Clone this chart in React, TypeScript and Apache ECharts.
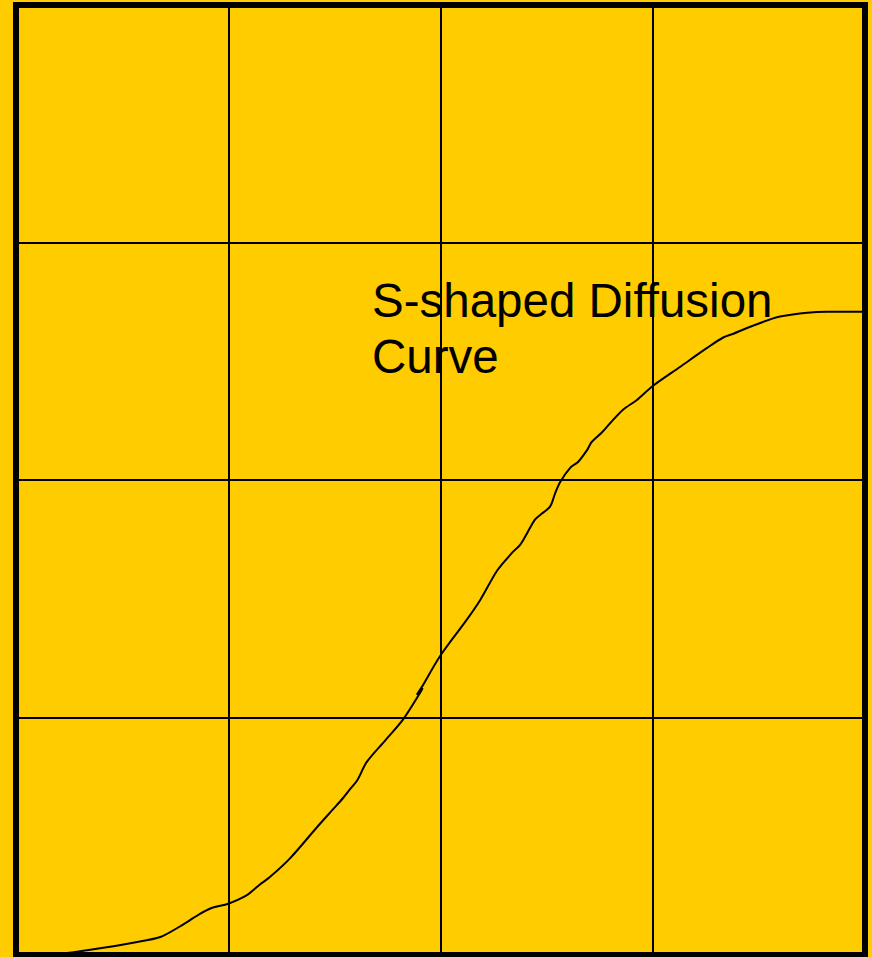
import React, { useEffect, useRef } from "react";
import * as echarts from "echarts";

// Curve points (x: 0-100 across the grid, y: 0-100 up the grid)
const curveX = [
  3.4, 6.0, 9.9, 13.8, 17.0, 19.3, 20.9, 22.0, 23.2, 25.0, 27.2, 28.7, 29.9,
  32.3, 35.5, 37.3, 38.5, 39.3, 40.2, 41.3, 43.5, 45.6, 47.6, 47.9, 47.2, 47.8,
  49.9, 53.1, 54.7, 56.7, 58.5, 59.4, 60.2, 61.1, 61.7, 62.9, 63.5, 64.1, 65.3,
  66.2, 67.3, 67.8, 69.0, 70.0, 71.5, 73.1, 75.0, 78.2, 81.4, 83.3, 84.5, 86.1,
  88.5, 90.0, 93.2, 95.5, 99.7,
];
const curveY = [
  0.0, 0.2, 0.7, 1.3, 1.9, 3.0, 3.9, 4.5, 5.0, 5.4, 6.3, 7.4, 8.2,
  10.2, 13.5, 15.3, 16.5, 17.4, 18.4, 20.3, 22.6, 24.8, 27.6, 28.1, 27.4, 28.2,
  31.4, 35.3, 37.4, 40.5, 42.4, 43.2, 44.4, 45.8, 46.3, 47.2, 48.6, 49.8, 51.3,
  51.9, 53.2, 54.0, 55.0, 56.0, 57.4, 58.4, 59.9, 61.9, 63.9, 65.0, 65.4, 66.0,
  66.8, 67.2, 67.6, 67.7, 67.7,
];
const axisMin = 0;
const axisMax = 100;
const axisStep = 25;
const labelLines = ["S-shaped Diffusion", "Curve"];

export default function App() {
  const ref = useRef<HTMLDivElement>(null);
  useEffect(() => {
    if (!ref.current) return;
    const chart = echarts.init(ref.current, null, { renderer: "svg" });
    const data = curveX.map((x, i) => [x, curveY[i]]);
    const splitLine = { show: true, lineStyle: { color: "#000", width: 2 } };
    chart.setOption({
      animation: false,
      backgroundColor: "#FFCC00",
      grid: {
        left: 16,
        right: 7,
        top: 5,
        bottom: 2,
        show: true,
        backgroundColor: "#FFCC00",
        borderColor: "#000",
        borderWidth: 6,
      },
      xAxis: {
        type: "value",
        min: axisMin,
        max: axisMax,
        interval: axisStep,
        axisLine: { show: false },
        axisTick: { show: false },
        axisLabel: { show: false },
        splitLine,
      },
      yAxis: {
        type: "value",
        min: axisMin,
        max: axisMax,
        interval: axisStep,
        axisLine: { show: false },
        axisTick: { show: false },
        axisLabel: { show: false },
        splitLine,
      },
      series: [
        {
          type: "line",
          data,
          showSymbol: false,
          smooth: 0.3,
          lineStyle: { color: "#000", width: 2 },
          z: 3,
        },
      ],
      graphic: [
        {
          type: "text",
          left: 372,
          top: 272,
          z: 10,
          style: {
            text: labelLines.join("\n"),
            fill: "#000",
            font: '47.5px "Liberation Sans", Arial, sans-serif',
            lineHeight: 56,
          },
        },
      ],
    });
    return () => chart.dispose();
  }, []);
  return (
    <div
      style={{
        position: "fixed",
        left: 0,
        top: 0,
        width: 872,
        height: 957,
        background: "#FFCC00",
      }}
    >
      <div ref={ref} style={{ width: 872, height: 957 }} />
    </div>
  );
}
